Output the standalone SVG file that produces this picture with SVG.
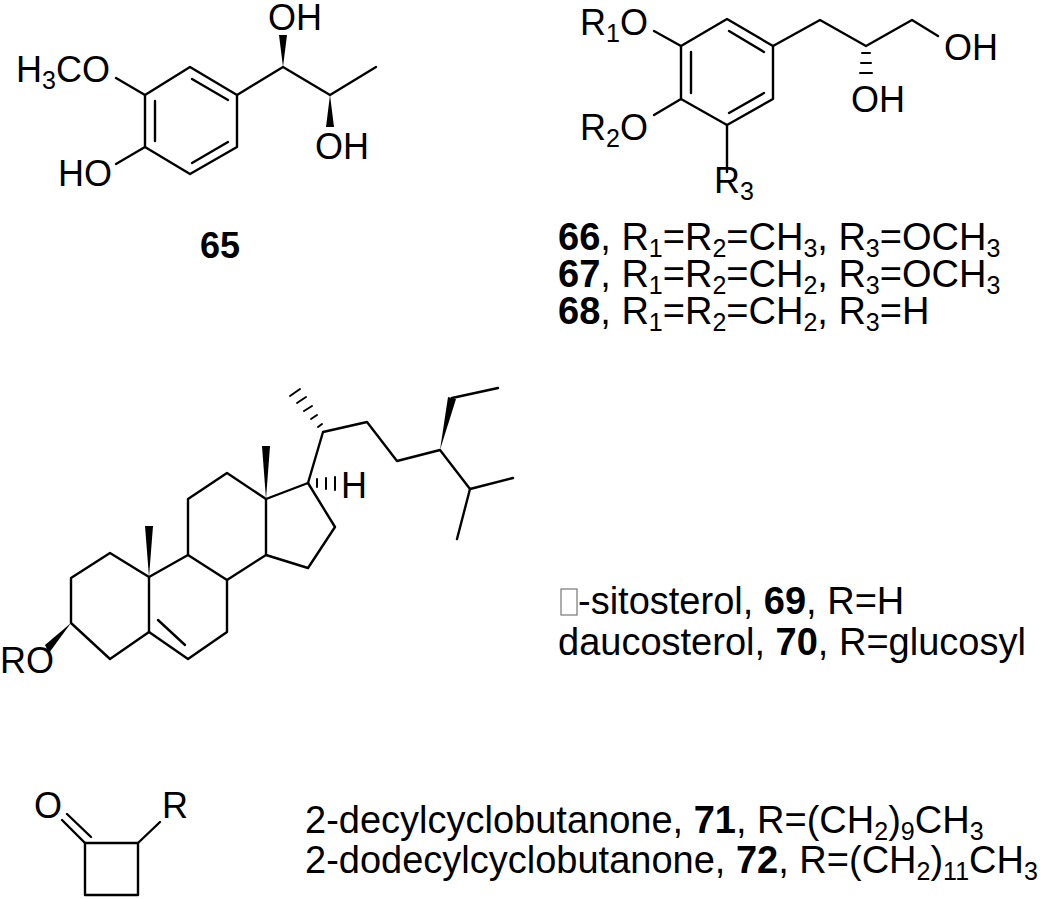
<svg xmlns="http://www.w3.org/2000/svg" width="1050" height="899" viewBox="0 0 1050 899">
<style>
line,polyline,polygon.r{stroke:#000;stroke-width:2.4;fill:none;stroke-linecap:round;stroke-linejoin:round}
.w{fill:#000;stroke:none}
.h{stroke:#000;stroke-width:2}
text{font-family:"Liberation Sans",Arial,sans-serif;font-size:36px;fill:#000}
.L{font-size:38px}
.b{font-weight:bold}
.s{font-size:25px}
</style>
<rect width="1050" height="899" fill="#fff"/>
<g id="c65">
<polygon class="r" points="190,67 237,95 237,147 190,174 145,147 145,95"/>
<line x1="155" y1="101" x2="155" y2="141"/><line x1="192" y1="79" x2="228" y2="100"/><line x1="192" y1="163" x2="228" y2="142"/>
<line x1="145" y1="95" x2="116" y2="78"/><line x1="145" y1="147" x2="116" y2="164"/>
<polyline points="237,95 283,67 330,95 376,67"/>
<polygon class="w" points="283,67 279,35 287,35"/><polygon class="w" points="330,95 326,127 334,127"/>
<text x="16" y="82">H<tspan class="s" dy="7">3</tspan><tspan dy="-7">CO</tspan></text>
<text x="58" y="186">HO</text><text x="268" y="30">OH</text><text x="315" y="159">OH</text>
<text class="b" x="200" y="258">65</text>
</g>
<g id="c66">
<polygon class="r" points="727,19 773,46 773,99 727,125 681,99 681,46"/>
<line x1="691" y1="52" x2="691" y2="93"/><line x1="729" y1="31" x2="764" y2="52"/><line x1="729" y1="113" x2="764" y2="93"/>
<line x1="681" y1="46" x2="654" y2="31"/><line x1="681" y1="99" x2="654" y2="115"/><line x1="727" y1="125" x2="727" y2="172"/>
<polyline points="773,46 820,20 866,46 912,20 938,36"/>
<line class="h" x1="862" y1="53" x2="870" y2="53"/><line class="h" x1="861" y1="63" x2="871" y2="63"/><line class="h" x1="860" y1="73" x2="872" y2="73"/>
<text x="580" y="35">R<tspan class="s" dy="7">1</tspan><tspan dy="-7">O</tspan></text>
<text x="580" y="140">R<tspan class="s" dy="7">2</tspan><tspan dy="-7">O</tspan></text>
<text x="714" y="193">R<tspan class="s" dy="7">3</tspan></text>
<text x="944" y="60">OH</text><text x="851" y="112">OH</text>
<text class="L" x="558" y="250"><tspan class="b">66</tspan>, R<tspan class="s" dy="7">1</tspan><tspan dy="-7">=R</tspan><tspan class="s" dy="7">2</tspan><tspan dy="-7">=CH</tspan><tspan class="s" dy="7">3</tspan><tspan dy="-7">, R</tspan><tspan class="s" dy="7">3</tspan><tspan dy="-7">=OCH</tspan><tspan class="s" dy="7">3</tspan></text>
<text class="L" x="558" y="287"><tspan class="b">67</tspan>, R<tspan class="s" dy="7">1</tspan><tspan dy="-7">=R</tspan><tspan class="s" dy="7">2</tspan><tspan dy="-7">=CH</tspan><tspan class="s" dy="7">2</tspan><tspan dy="-7">, R</tspan><tspan class="s" dy="7">3</tspan><tspan dy="-7">=OCH</tspan><tspan class="s" dy="7">3</tspan></text>
<text class="L" x="558" y="324"><tspan class="b">68</tspan>, R<tspan class="s" dy="7">1</tspan><tspan dy="-7">=R</tspan><tspan class="s" dy="7">2</tspan><tspan dy="-7">=CH</tspan><tspan class="s" dy="7">2</tspan><tspan dy="-7">, R</tspan><tspan class="s" dy="7">3</tspan><tspan dy="-7">=H</tspan></text>
</g>
<g id="c69">
<polygon class="r" points="110,553 71,578 71,623 110,659 149,632 149,577"/>
<polyline points="149,577 188,555 227,580 227,632 188,659 149,632"/>
<line x1="158" y1="620" x2="185" y2="645"/>
<polyline points="188,555 188,499 227,473 266,499 266,555 227,580"/>
<polyline points="266,499 308,483 335,527 308,568 266,555"/>
<polygon class="w" points="149,577 145,526 153,526"/><polygon class="w" points="266,499 262,446 270,446"/>
<polygon class="w" points="71,623 45,645 49,653"/>
<line class="h" x1="317" y1="479" x2="317" y2="487"/><line class="h" x1="326" y1="478" x2="326" y2="489"/><line class="h" x1="335" y1="477" x2="335" y2="490"/>
<polyline points="308,483 323,432 367,422 397,461 440,450 470,489 513,478"/>
<line x1="470" y1="489" x2="457" y2="539"/>
<polyline points="452,398 498,388"/>
<polygon class="w" points="440,450 448,397 456,399"/>
<line class="h" x1="318" y1="427" x2="322" y2="424"/><line class="h" x1="311" y1="419" x2="317" y2="415"/><line class="h" x1="304" y1="411" x2="312" y2="406"/><line class="h" x1="297" y1="403" x2="306" y2="397"/><line class="h" x1="290" y1="396" x2="300" y2="389"/>
<text x="341" y="498">H</text><text x="0" y="673">RO</text>
<rect x="561" y="589" width="16" height="26" fill="none" stroke="#777" stroke-width="1.2"/>
<text class="L" x="578" y="614">-sitosterol, <tspan class="b">69</tspan>, R=H</text>
<text class="L" x="558" y="655">daucosterol, <tspan class="b">70</tspan>, R=glucosyl</text>
</g>
<g id="c71">
<polygon class="r" points="85,843 138,843 138,895 85,895"/>
<line x1="85" y1="843" x2="62" y2="820"/><line x1="91" y1="837" x2="67" y2="814"/>
<line x1="138" y1="843" x2="160" y2="822"/>
<text x="34" y="818">O</text><text x="162" y="818">R</text>
<text class="L" x="305" y="833">2-decylcyclobutanone, <tspan class="b">71</tspan>, R=(CH<tspan class="s" dy="7">2</tspan><tspan dy="-7">)</tspan><tspan class="s" dy="7">9</tspan><tspan dy="-7">CH</tspan><tspan class="s" dy="7">3</tspan></text>
<text class="L" x="305" y="873">2-dodecylcyclobutanone, <tspan class="b">72</tspan>, R=(CH<tspan class="s" dy="7">2</tspan><tspan dy="-7">)</tspan><tspan class="s" dy="7">11</tspan><tspan dy="-7">CH</tspan><tspan class="s" dy="7">3</tspan></text>
</g>
</svg>
